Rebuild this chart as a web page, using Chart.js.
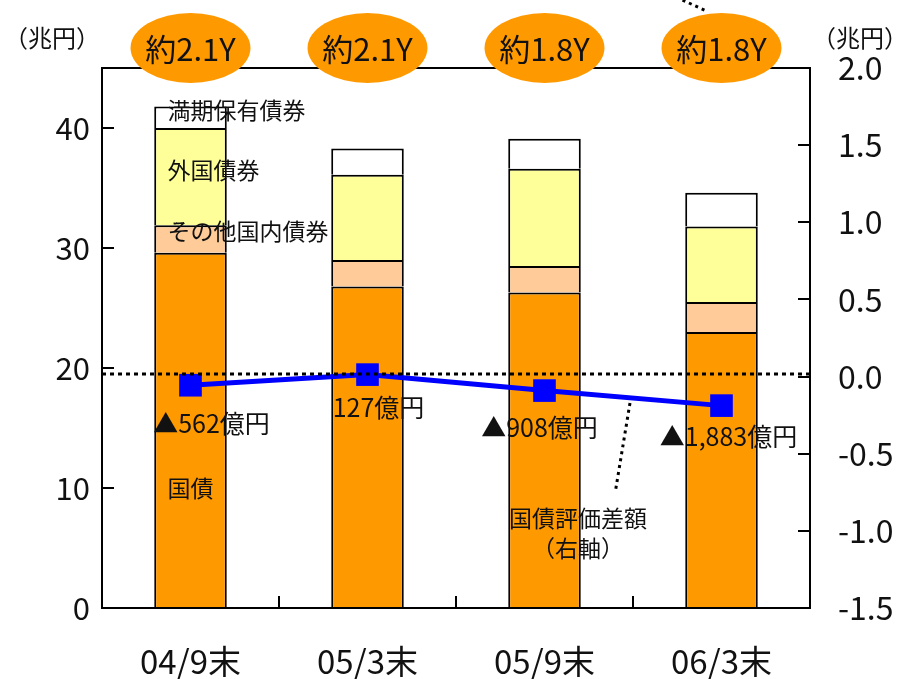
<!DOCTYPE html>
<html>
<head>
<meta charset="utf-8">
<script src="https://cdn.jsdelivr.net/npm/chart.js@4.4.1/dist/chart.umd.min.js"></script>
<style>
  html, body { margin: 0; padding: 0; background: #ffffff; }
  canvas { display: block; }
</style>
</head>
<body>
<canvas id="chart" width="905" height="679"></canvas>
<script>
// 保有債券残高（兆円、左軸）
const categories = ['04/9末', '05/3末', '05/9末', '06/3末'];
const jgb = [29.6, 26.8, 26.3, 23.0];            // 国債
const otherDomestic = [2.3, 2.2, 2.2, 2.5];      // その他国内債券
const foreignBonds = [8.1, 7.1, 8.1, 6.3];       // 外国債券
const heldToMaturity = [1.8, 2.2, 2.5, 2.8];     // 満期保有債券
// 国債評価差額（兆円、右軸）
const valuationGap = [-0.0562, 0.0127, -0.0908, -0.1883];
// デュレーション
const durations = ['約2.1Y', '約2.1Y', '約1.8Y', '約1.8Y'];
// 目盛
const leftTicks = [0, 10, 20, 30, 40];
const rightTicks = [-1.5, -1.0, -0.5, 0.0, 0.5, 1.0, 1.5, 2.0];

const FONT = '"Noto Sans CJK JP", "Noto Sans", sans-serif';
const ORANGE = '#FF9900';

// 評価差額ラベル（億円表記、マイナスは▲）
function gapLabel(v) {
  const oku = Math.round(v * 10000);
  return (oku < 0 ? '▲' : '') + Math.abs(oku).toLocaleString('en-US') + '億円';
}
// 評価差額ラベルの点からのずれ [dx, dy]
const gapLabelOffsets = [[21, 38], [11, 33], [-5, 37], [7, 31]];

const decor = {
  id: 'decor',
  afterDatasetsDraw(chart) {
    const { ctx, chartArea: a, scales: { x, y, y1 } } = chart;
    ctx.save();
    // 枠
    ctx.strokeStyle = '#000';
    ctx.lineWidth = 2;
    ctx.strokeRect(a.left, a.top, a.right - a.left, a.bottom - a.top);
    // 内向きの目盛線
    ctx.beginPath();
    leftTicks.forEach(v => {
      const py = Math.round(y.getPixelForValue(v));
      ctx.moveTo(a.left, py); ctx.lineTo(a.left + 12, py);
    });
    rightTicks.forEach(v => {
      const py = Math.round(y1.getPixelForValue(v));
      ctx.moveTo(a.right, py); ctx.lineTo(a.right - 12, py);
    });
    for (let i = 0; i < categories.length - 1; i++) {
      const px = Math.round((x.getPixelForValue(i) + x.getPixelForValue(i + 1)) / 2);
      ctx.moveTo(px, a.bottom); ctx.lineTo(px, a.bottom - 12);
    }
    ctx.stroke();
    // ゼロ線（右軸）
    ctx.setLineDash([4, 4]);
    ctx.lineWidth = 3;
    const zy = Math.round(y1.getPixelForValue(0)) - 3;
    ctx.beginPath();
    ctx.moveTo(a.left, zy); ctx.lineTo(a.right, zy);
    ctx.stroke();
    // 引出線
    ctx.setLineDash([3, 4]);
    ctx.beginPath();
    ctx.moveTo(x.getPixelForValue(2.483), y1.getPixelForValue(-0.171));
    ctx.lineTo(x.getPixelForValue(2.40), y1.getPixelForValue(-0.748));
    ctx.stroke();
    ctx.beginPath();
    ctx.moveTo(x.getPixelForValue(2.78), y1.getPixelForValue(2.44));
    ctx.lineTo(x.getPixelForValue(2.905), y1.getPixelForValue(2.375));
    ctx.stroke();
    ctx.restore();
  },
  afterDraw(chart) {
    const { ctx, chartArea: a, scales: { x, y, y1 } } = chart;
    ctx.save();
    // デュレーションの楕円
    durations.forEach((t, i) => {
      const cx = x.getPixelForValue(i);
      const cy = a.top - 20;
      ctx.fillStyle = ORANGE;
      ctx.beginPath();
      ctx.ellipse(cx, cy, 60, 35, 0, 0, Math.PI * 2);
      ctx.fill();
      ctx.fillStyle = '#111';
      ctx.font = '31px ' + FONT;
      ctx.textAlign = 'center';
      ctx.textBaseline = 'middle';
      ctx.fillText(t, cx, cy + 1);
    });
    // 単位
    ctx.fillStyle = '#111';
    ctx.font = '24px ' + FONT;
    ctx.textBaseline = 'middle';
    ctx.textAlign = 'left';
    ctx.fillText('（兆円）', 4, 38);
    ctx.textAlign = 'right';
    ctx.fillText('（兆円）', 908, 38);
    // 系列名
    ctx.font = '23px ' + FONT;
    ctx.textAlign = 'left';
    const bx = x.getPixelForValue(0) - 23;
    ctx.fillText('満期保有債券', bx, y.getPixelForValue(41.5));
    ctx.fillText('外国債券', bx, y.getPixelForValue(36.45));
    ctx.fillText('その他国内債券', bx, y.getPixelForValue(31.4));
    ctx.fillText('国債', bx, y.getPixelForValue(9.95));
    ctx.textAlign = 'center';
    const lx = (x.getPixelForValue(2) + x.getPixelForValue(3)) / 2 - 55;
    ctx.fillText('国債評価差額', lx, y1.getPixelForValue(-0.916));
    ctx.fillText('（右軸）', lx, y1.getPixelForValue(-1.11));
    // 評価差額の値
    ctx.font = '25px ' + FONT;
    valuationGap.forEach((v, i) => {
      const [dx, dy] = gapLabelOffsets[i];
      ctx.fillText(gapLabel(v), x.getPixelForValue(i) + dx, y1.getPixelForValue(v) + dy);
    });
    ctx.restore();
  }
};

const barCommon = { borderColor: '#000', borderWidth: 2, barPercentage: 0.82, categoryPercentage: 0.5, yAxisID: 'y', order: 2 };

new Chart(document.getElementById('chart'), {
  type: 'bar',
  data: {
    labels: categories,
    datasets: [
      { type: 'line', label: '国債評価差額', data: valuationGap, yAxisID: 'y1', order: 0,
        borderColor: '#0000FF', borderWidth: 5, backgroundColor: '#0000FF',
        pointStyle: 'rect', pointRadius: 16, pointBorderWidth: 0, pointBackgroundColor: '#0000FF',
        tension: 0, fill: false },
      { ...barCommon, label: '国債', data: jgb, backgroundColor: ORANGE },
      { ...barCommon, label: 'その他国内債券', data: otherDomestic, backgroundColor: '#FFCC99' },
      { ...barCommon, label: '外国債券', data: foreignBonds, backgroundColor: '#FFFF99' },
      { ...barCommon, label: '満期保有債券', data: heldToMaturity, backgroundColor: '#FFFFFF' }
    ]
  },
  options: {
    responsive: false,
    animation: false,
    events: [],
    layout: { padding: { top: 68, left: 0, right: 0, bottom: 0 } },
    plugins: { legend: { display: false }, tooltip: { enabled: false } },
    scales: {
      x: {
        stacked: true,
        grid: { display: false, drawTicks: false },
        border: { display: false },
        ticks: { color: '#111', font: { family: FONT, size: 33 }, padding: 34 },
        afterFit(s) { s.height = 71; }
      },
      y: {
        position: 'left',
        stacked: true,
        min: 0, max: 45,
        grid: { display: false, drawTicks: false },
        border: { display: false },
        ticks: { stepSize: 10, includeBounds: false, color: '#111', font: { family: FONT, size: 31 }, padding: 12 },
        afterFit(s) { s.width = 102; }
      },
      y1: {
        position: 'right',
        min: -1.5, max: 2.0,
        grid: { display: false, drawTicks: false },
        border: { display: false },
        ticks: { stepSize: 0.5, color: '#111', font: { family: FONT, size: 32 }, padding: 28,
                 callback: v => v.toFixed(1) },
        afterFit(s) { s.width = 95; }
      }
    }
  },
  plugins: [decor]
});
</script>
</body>
</html>
